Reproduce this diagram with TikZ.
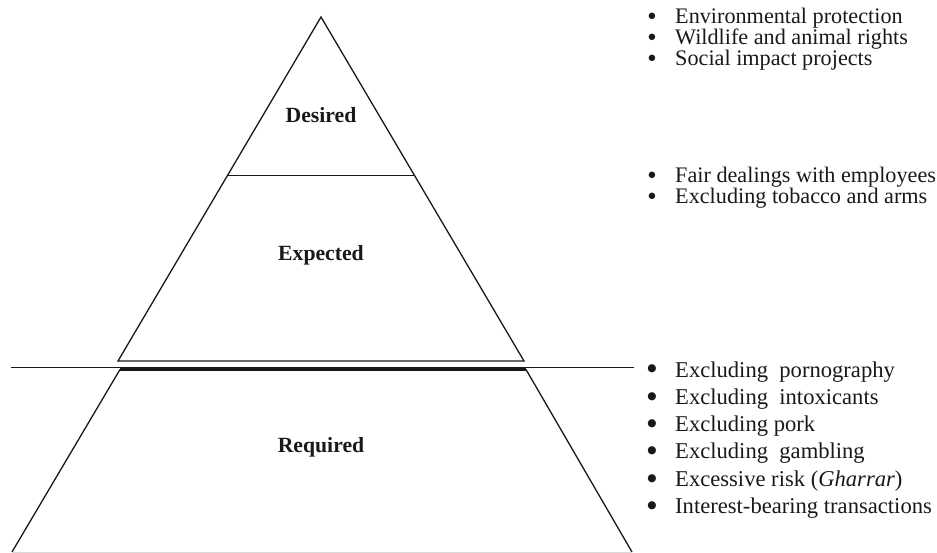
\documentclass[tikz,border=0pt]{standalone}
\usepackage{fontspec}
\setmainfont{Liberation Serif}
\newfontfamily\dvsans{DejaVu Sans}
\usetikzlibrary{calc}
\tikzset{
  edge/.style={line width=1.3pt, line join=miter, color=black!90},
  lvl/.style={font=\fontsize{21.7}{24}\selectfont\bfseries, anchor=base, inner sep=0pt, text=black!90},
  item/.style={font=\fontsize{22.2}{21}\selectfont, anchor=base west, inner sep=0pt, text=black!90},
  itemb/.style={font=\fontsize{22.6}{24}\selectfont, anchor=base west, inner sep=0pt, text=black!90},
  dotS/.style={font=\dvsans\fontsize{8.4}{9}\selectfont, inner sep=0pt, text=black!90},
  dotB/.style={font=\dvsans\fontsize{10.6}{11}\selectfont, inner sep=0pt, text=black!90},
}
\begin{document}
\begin{tikzpicture}[x=1pt,y=-1pt]
\useasboundingbox (0,0) rectangle (937,553);
% upper triangle
\coordinate (A) at (321,17);
\coordinate (BL) at (118,361);
\coordinate (BR) at (524,361);
\coordinate (DL) at ($(A)!0.4613!(BL)$);
\coordinate (DR) at ($(A)!0.4613!(BR)$);
\draw[edge] (BL) -- (A) -- (BR) -- cycle;
\draw[edge] (DL) -- (DR);
% long line
\coordinate (HL) at (11,367.3);
\coordinate (HR) at (634,367.3);
\draw[line width=1.2pt, black!90] (HL) -- (HR);
% lower trapezoid
\coordinate (TL) at (120,369.5);
\coordinate (TR) at (526,369.5);
\coordinate (QL) at (12,552);
\coordinate (QR) at (632,552);
\draw[edge] (TL) -- (QL);
\draw[edge] (TR) -- (QR);
\draw[line width=2.4pt, black!90] (TL) -- (TR);
\draw[line width=1pt, black!15] (QL) -- (QR);
% labels
\node[lvl] (des) at (321,123) {Desired};
\node[lvl] (exp) at (321,261) {Expected};
\node[lvl] (req) at (321,452) {Required};
% top list
\foreach \y/\t [count=\i] in {24/Environmental protection, 45/Wildlife and animal rights, 66/Social impact projects}{
  \node[dotS] (td\i) at (652,\y-7.3) {●};
  \node[item] (t\i) at (675,\y) {\t};
}
% middle list
\foreach \y/\t [count=\i] in {183/Fair dealings with employees, 204/Excluding tobacco and arms}{
  \node[dotS] (md\i) at (652,\y-7.3) {●};
  \node[item] (m\i) at (675,\y) {\t};
}
% bottom list
\foreach \y/\t [count=\i] in {377/{Excluding~ pornography}, 404.3/{Excluding~ intoxicants}, 431.6/{Excluding pork}, 458.9/{Excluding~ gambling}, 486.2/{Excessive risk (\textit{Gharrar})}, 513.5/{Interest-bearing transactions}}{
  \node[dotB] (bd\i) at (652,\y-7.8) {●};
  \node[itemb] (b\i) at (675,\y) {\t};
}
\end{tikzpicture}
\end{document}
